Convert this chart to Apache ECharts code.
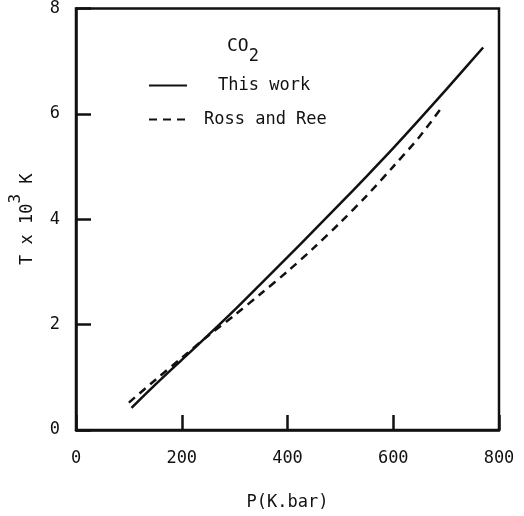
<!DOCTYPE html>
<html><head><meta charset="utf-8">
<script src="https://cdn.jsdelivr.net/npm/echarts@6/dist/echarts.min.js"></script>
<style>html,body{margin:0;padding:0;background:#fff}#c{width:524px;height:516px}</style>
</head><body><div id="c"></div>
<script>
const thisWorkP = [105, 150, 200, 250, 300, 350, 400, 450, 500, 550, 600, 650, 700, 770];
const thisWorkT = [0.42, 0.86, 1.33, 1.80, 2.28, 2.78, 3.28, 3.79, 4.30, 4.82, 5.35, 5.90, 6.46, 7.26];
const rossReeP = [100, 150, 200, 250, 300, 350, 400, 450, 500, 550, 600, 650, 690];
const rossReeT = [0.52, 0.95, 1.37, 1.79, 2.18, 2.59, 3.01, 3.46, 3.94, 4.45, 5.00, 5.57, 6.10];
const xTicks = [0, 200, 400, 600, 800];
const yTicks = [0, 2, 4, 6, 8];
const seriesNames = ['This work', 'Ross and Ree'];

const FONT = 'DejaVu Sans Mono';
const chart = echarts.init(document.getElementById('c'), null, {renderer: 'canvas'});
const pairs = (xs, ys) => xs.map((x, i) => [x, ys[i]]);
const legendCommon = {left: 143, itemWidth: 38, itemHeight: 14, itemGap: 0,
  itemStyle: {opacity: 0}, inactiveColor: '#111'};
chart.setOption({
  backgroundColor: '#fff',
  animation: false,
  title: {
    text: '{a|CO}{b|2}',
    left: 222, top: 32,
    textStyle: {
      fontWeight: 'normal',
      rich: {
        a: {fontFamily: FONT, fontSize: 18, fontWeight: 'normal', color: '#111', lineHeight: 28, verticalAlign: 'top'},
        b: {fontFamily: FONT, fontSize: 17, fontWeight: 'normal', color: '#111', lineHeight: 28, verticalAlign: 'bottom'}
      }
    }
  },
  legend: [
    Object.assign({data: [seriesNames[0]], top: 72,
      textStyle: {fontFamily: FONT, fontSize: 17, color: '#111', padding: [0, 0, 0, 26]}}, legendCommon),
    Object.assign({data: [seriesNames[1]], top: 106,
      textStyle: {fontFamily: FONT, fontSize: 17, color: '#111', padding: [0, 0, 0, 12]}}, legendCommon)
  ],
  grid: {left: 75, right: 25, top: 8, bottom: 84, show: true, borderColor: '#111', borderWidth: 2.5, backgroundColor: 'transparent'},
  xAxis: {
    type: 'value', min: 0, max: 800, interval: 200,
    name: 'P(K.bar)', nameLocation: 'middle', nameGap: 64,
    nameTextStyle: {fontFamily: FONT, fontSize: 17, color: '#111'},
    axisLine: {show: true, lineStyle: {color: '#111', width: 2.5}},
    axisTick: {show: true, inside: true, length: 15, lineStyle: {color: '#111', width: 2.5}},
    axisLabel: {fontFamily: FONT, fontSize: 17, color: '#111', margin: 20,
      formatter: v => xTicks.includes(v) ? String(v) : ''},
    splitLine: {show: false}
  },
  yAxis: {
    type: 'value', min: 0, max: 8, interval: 2,
    name: '{a|T x 10}{s|3}{a| K}', nameLocation: 'middle', nameGap: 40,
    nameTextStyle: {
      rich: {
        a: {fontFamily: FONT, fontSize: 17, color: '#111', lineHeight: 28, verticalAlign: 'bottom'},
        s: {fontFamily: FONT, fontSize: 16, color: '#111', lineHeight: 28, verticalAlign: 'top'}
      }
    },
    axisLine: {show: true, lineStyle: {color: '#111', width: 2.5}},
    axisTick: {show: true, inside: true, length: 15, lineStyle: {color: '#111', width: 2.5}},
    axisLabel: {fontFamily: FONT, fontSize: 17, color: '#111', margin: 16,
      formatter: v => yTicks.includes(v) ? String(v) : ''},
    splitLine: {show: false}
  },
  series: [
    {name: seriesNames[0], type: 'line', data: pairs(thisWorkP, thisWorkT), showSymbol: false, symbol: 'none',
     smooth: 0.3, lineStyle: {color: '#111', width: 2.5}, itemStyle: {color: '#111'}},
    {name: seriesNames[1], type: 'line', data: pairs(rossReeP, rossReeT), showSymbol: false, symbol: 'none',
     smooth: 0.3, lineStyle: {color: '#111', width: 2.5, type: [8, 6]}, itemStyle: {color: '#111'}}
  ]
});
</script></body></html>
